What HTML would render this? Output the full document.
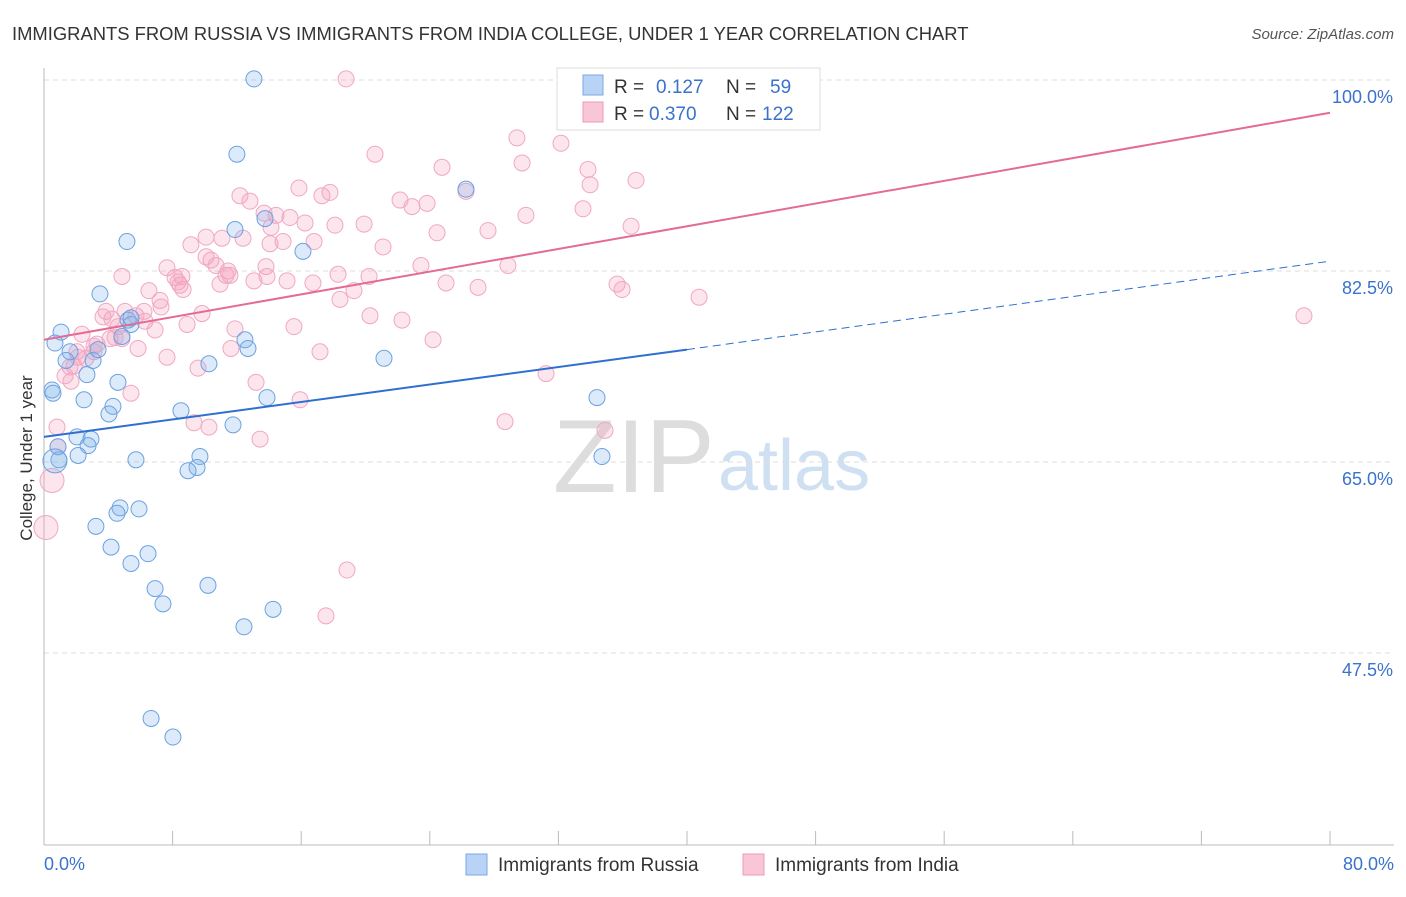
<!DOCTYPE html>
<html><head><meta charset="utf-8"><style>
body{margin:0;background:#fff;font-family:"Liberation Sans",sans-serif;}
svg text{font-family:"Liberation Sans",sans-serif;}
</style></head><body>
<svg id="chart" width="1406" height="892">
<text x="12" y="40" font-size="18.4" fill="#333">IMMIGRANTS FROM RUSSIA VS IMMIGRANTS FROM INDIA COLLEGE, UNDER 1 YEAR CORRELATION CHART</text>
<text x="1394" y="39" font-size="15" fill="#555" text-anchor="end" font-style="italic">Source: ZipAtlas.com</text>
<text x="32" y="458" font-size="17" fill="#333" text-anchor="middle" transform="rotate(-90 32 458)">College, Under 1 year</text>
<text x="553" y="492" font-size="104" fill="#ddd" font-family="Liberation Serif">ZIP</text>
<text x="718" y="490" font-size="72" fill="#cfe0f2">atlas</text>
<g id="grid"></g><g id="axes"></g><g id="pts"></g><g id="lines"></g>
<g>
<rect x="557" y="68" width="263" height="62" fill="#fff" stroke="#ddd"/>
<rect x="583" y="75" width="20" height="20" fill="#b8d3f5" stroke="#7aaae8"/>
<rect x="583" y="102" width="20" height="20" fill="#f9c6d6" stroke="#ee9ab6"/>
<text x="614" y="93" font-size="19" fill="#333">R =</text><text x="656" y="93" font-size="19" fill="#3a72cc">0.127</text>
<text x="726" y="93" font-size="19" fill="#333">N =</text><text x="770" y="93" font-size="19" fill="#3a72cc">59</text>
<text x="614" y="120" font-size="19" fill="#333">R =</text><text x="649" y="120" font-size="19" fill="#3a72cc">0.370</text>
<text x="726" y="120" font-size="19" fill="#333">N =</text><text x="762" y="120" font-size="19" fill="#3a72cc">122</text>
</g>
<g>
<rect x="466" y="854" width="21" height="21" fill="#b8d3f5" stroke="#7aaae8"/>
<text x="498" y="871" font-size="19" fill="#333">Immigrants from Russia</text>
<rect x="743" y="854" width="21" height="21" fill="#f9c6d6" stroke="#ee9ab6"/>
<text x="775" y="871" font-size="19" fill="#333">Immigrants from India</text>
</g>
</svg>
<script>
const yTicks=[100,82.5,65,47.5];
const yTickLabels=["100.0%","82.5%","65.0%","47.5%"];
const xTickLabels=["0.0%","80.0%"];
const russiaX=[13.06,12.0,26.25,5.16,11.88,13.75,16.11,3.48,1.06,5.23,5.41,0.68,1.62,1.37,3.05,2.67,4.60,10.26,21.15,12.50,12.69,0.50,0.56,2.49,4.29,4.04,8.52,13.87,34.40,11.76,2.05,2.92,2.74,2.12,0.93,5.72,9.70,9.52,8.96,34.71,4.73,5.91,4.54,3.23,4.17,6.47,5.41,6.91,7.40,10.20,14.25,12.44,6.66,8.02,0.87,0.68,4.85,3.36,5.41];
const russiaY=[100.1,93.2,90.0,85.2,86.3,87.3,84.3,80.4,76.9,78.0,77.6,75.9,75.1,74.3,74.3,73.0,72.3,74.0,74.5,76.2,75.4,71.6,71.3,70.7,70.1,69.4,69.7,70.9,70.9,68.4,67.3,67.1,66.5,65.6,65.2,65.2,65.5,64.5,64.2,65.5,60.8,60.7,60.3,59.1,57.2,56.6,55.7,53.4,52.0,53.7,51.5,49.9,41.5,39.8,66.4,65.1,76.5,75.3,78.2];
const indiaX=[18.79,29.42,20.59,32.16,24.76,29.74,33.84,36.83,33.97,26.25,15.86,17.29,17.79,12.19,12.81,22.15,22.89,23.83,29.98,33.53,13.69,14.43,15.30,16.24,19.91,27.62,36.52,24.45,10.08,11.07,12.38,9.14,14.06,18.10,16.80,14.87,14.12,21.09,10.39,10.70,7.65,4.85,13.81,8.15,8.58,8.65,11.32,10.95,11.57,13.06,15.12,16.73,18.29,20.22,23.45,25.01,27.00,28.86,35.65,35.96,40.75,78.38,7.22,7.28,6.53,18.41,19.28,9.83,8.90,20.28,22.27,5.04,6.22,6.28,3.86,3.67,4.23,4.60,6.91,11.88,15.55,24.20,2.36,3.30,3.11,5.85,7.65,11.63,17.17,9.58,4.11,2.12,2.61,1.87,1.31,1.68,5.41,13.19,15.93,28.68,31.23,9.33,10.26,13.44,34.90,0.81,0.87,0.50,0.12,18.85,17.54,1.62,2.05,3.11,4.85,4.42,5.72,11.45,13.87,10.08,8.46,8.34];
const indiaY=[100.1,94.7,93.2,94.2,92.0,92.4,91.8,90.8,90.4,89.8,90.1,89.4,89.7,89.4,88.9,89.0,88.4,88.7,87.6,88.2,87.8,87.6,87.4,86.9,86.8,86.2,86.6,86.0,85.6,85.5,85.5,84.9,85.0,86.7,85.2,85.2,86.5,84.7,83.5,83.0,82.8,82.0,82.9,81.9,82.0,80.8,82.1,81.3,82.1,81.6,81.6,81.4,82.2,82.0,83.0,81.4,81.0,83.0,81.3,80.8,80.1,78.4,79.8,79.2,80.7,79.9,80.7,78.6,77.6,78.4,78.0,78.8,78.8,77.9,78.8,78.3,78.1,77.4,77.1,77.2,77.4,76.2,76.7,75.8,75.1,75.4,74.6,75.4,75.1,73.6,76.3,74.6,74.5,73.8,72.9,72.4,71.3,72.3,70.7,68.7,73.1,68.6,68.2,67.1,67.9,68.2,66.4,63.3,59.0,55.1,50.9,73.7,75.1,75.6,76.3,76.4,78.4,82.5,82.0,83.8,81.2,81.5];
const russiaLine=[0,67.3,40,75.3,80,83.4];
const indiaLine=[0,76.2,80,97.0];
const large={r:[55],i:[107,108]};
const X=v=>44+v*16.075, Y=v=>80+(100-v)*10.914;
const NS='http://www.w3.org/2000/svg';
function mk(tag,attrs,parent){const e=document.createElementNS(NS,tag);for(const k in attrs)e.setAttribute(k,attrs[k]);document.getElementById(parent).appendChild(e);return e;}
yTicks.forEach((t,i)=>{
 const g=mk('line',{x1:44,x2:1394,y1:Y(t),y2:Y(t),stroke:'#ddd','stroke-dasharray':'5,4'},'grid');
 
 
 const tx=mk('text',{x:1393,y:Y(t)+23,'font-size':18,fill:'#3a72cc','text-anchor':'end'},'grid');
 tx.textContent=yTickLabels[i];
 
 
});
const ax=mk('line',{x1:44,x2:1394,y1:845,y2:845,stroke:'#bbb'},'axes');


const ay=mk('line',{x1:44,x2:44,y1:68,y2:845,stroke:'#bbb'},'axes');


for(let v=0;v<=80;v+=8){const t=mk('line',{x1:X(v),x2:X(v),y1:831,y2:845,stroke:'#bbb'},'axes');
 
 }
[[0,'start',44],[80,'end',1394]].forEach((a,i)=>{const t=mk('text',{x:a[2],y:870,'font-size':18,fill:'#3a72cc','text-anchor':a[1]},'axes');t.textContent=xTickLabels[i];
 
 });
indiaX.forEach((v,i)=>{const c=mk('circle',{cx:X(v),cy:Y(indiaY[i]),r:large.i.includes(i)?12:8,fill:'rgba(244,160,190,0.28)',stroke:'#f0a8c2','stroke-width':1},'pts');
 
 });
russiaX.forEach((v,i)=>{const c=mk('circle',{cx:X(v),cy:Y(russiaY[i]),r:large.r.includes(i)?12:8,fill:'rgba(130,180,235,0.28)',stroke:'#6aa2e2','stroke-width':1},'pts');
 
 });
const l1=mk('line',{x1:X(russiaLine[0]),y1:Y(russiaLine[1]),x2:X(russiaLine[2]),y2:Y(russiaLine[3]),stroke:'#2f6fd0','stroke-width':2},'lines');


const l2=mk('line',{x1:X(russiaLine[2]),y1:Y(russiaLine[3]),x2:X(russiaLine[4]),y2:Y(russiaLine[5]),stroke:'#2f6fd0','stroke-width':1,'stroke-dasharray':'8,5'},'lines');


const l3=mk('line',{x1:X(indiaLine[0]),y1:Y(indiaLine[1]),x2:X(indiaLine[2]),y2:Y(indiaLine[3]),stroke:'#e56a95','stroke-width':2},'lines');


</script>
</body></html>
